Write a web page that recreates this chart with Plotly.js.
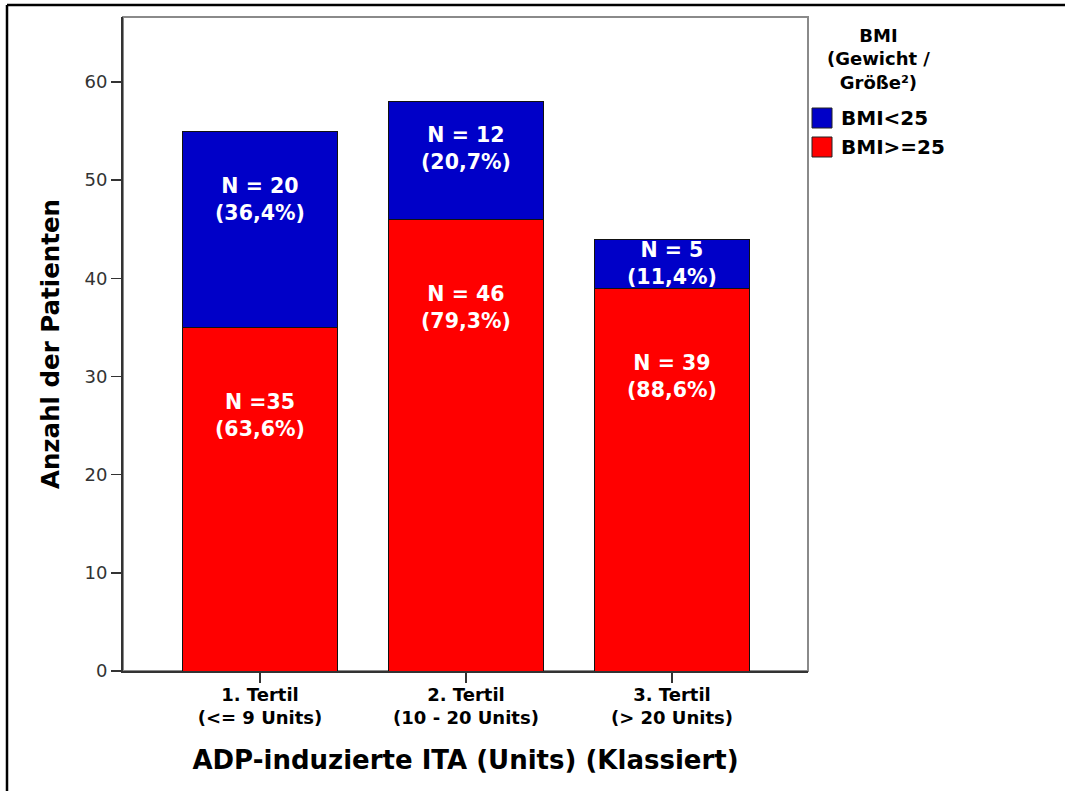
<!DOCTYPE html>
<html>
<head>
<meta charset="utf-8">
<script src="https://cdn.plot.ly/plotly-3.0.1.min.js"></script>
<style>
  html, body { margin: 0; padding: 0; background: #fff; }
  #chart { width: 1065px; height: 791px; }
</style>
</head>
<body>
<div id="chart"></div>
<script>
// ---- data ----
const categories = ["1. Tertil<br>(&lt;= 9 Units)", "2. Tertil<br>(10 - 20 Units)", "3. Tertil<br>(&gt; 20 Units)"];
const seriesNames = ["BMI&lt;25", "BMI&gt;=25"];
const countsLow = [20, 12, 5];    // BMI<25  (blue, top)
const countsHigh = [35, 46, 39];  // BMI>=25 (red, bottom)
const labelsLow = ["N = 20", "N = 12", "N = 5"];
const labelsHigh = ["N =35", "N = 46", "N = 39"];
const yTicks = [0, 10, 20, 30, 40, 50, 60];
const legendTitle = "BMI<br>(Gewicht /<br>Größe²)";
const xTitle = "ADP-induzierte ITA (Units) (Klassiert)";
const yTitle = "Anzahl der Patienten";

// ---- styles ----
const W = 1065, H = 791;
const M = { l: 123, r: 257, t: 17, b: 120 };
const plotW = W - M.l - M.r, plotH = H - M.t - M.b;
const px2x = p => (p - M.l) / plotW;
const px2y = p => 1 - (p - M.t) / plotH;
const BLUE = "#0000c8", RED = "#ff0000";
const BOLD = "DejaVu Sans, Verdana, Arial, sans-serif";
const xs = categories.map((c, i) => i);

const totals = countsLow.map((v, i) => v + countsHigh[i]);
const pct = (v, t) => "(" + (v / t * 100).toFixed(1).replace(".", ",") + "%)";

const traces = [
  {
    type: "bar", x: xs, y: countsHigh, name: seriesNames[1],
    marker: { color: RED, line: { color: "#111", width: 1 } },
    width: 0.748, showlegend: false, hoverinfo: "y+name"
  },
  {
    type: "bar", x: xs, y: countsLow, name: seriesNames[0],
    marker: { color: BLUE, line: { color: "#111", width: 1 } },
    width: 0.748, showlegend: false, hoverinfo: "y+name"
  }
];

// label placement rule: a fixed distance below the segment top, limited to a share of
// the segment, but never so close to the top that the two-line label sticks out
const annotations = [];
const offHigh = 9, offLow = 7, share = 0.4, halfText = 2.5;
const labelFont = { family: BOLD, size: 20.5, color: "#fff", weight: "bold" };
const labelDrop = (h, off) => Math.max(Math.min(off, share * h), Math.min(halfText, h / 2));
xs.forEach((x, i) => {
  const hiTop = countsHigh[i];
  annotations.push({
    x: x, y: hiTop - labelDrop(countsHigh[i], offHigh), xref: "x", yref: "y",
    text: labelsHigh[i] + "<br>" + pct(countsHigh[i], totals[i]),
    showarrow: false, font: labelFont, xanchor: "center", yanchor: "middle"
  });
  const loTop = totals[i];
  annotations.push({
    x: x, y: loTop - labelDrop(countsLow[i], offLow), xref: "x", yref: "y",
    text: labelsLow[i] + "<br>" + pct(countsLow[i], totals[i]),
    showarrow: false, font: labelFont, xanchor: "center", yanchor: "middle"
  });
});

// legend (drawn manually for SPSS-like big swatches)
annotations.push({
  x: px2x(878), y: px2y(59), xref: "paper", yref: "paper",
  text: legendTitle, showarrow: false, xanchor: "center", yanchor: "middle", align: "center",
  font: { family: BOLD, size: 18, color: "#000", weight: "bold" }
});
const legendColors = [BLUE, RED];
const legendRowY = [118, 147];
const shapes = [];
seriesNames.forEach((n, i) => {
  shapes.push({
    type: "rect", xref: "paper", yref: "paper",
    x0: px2x(812), x1: px2x(832), y0: px2y(legendRowY[i] - 10), y1: px2y(legendRowY[i] + 10),
    fillcolor: legendColors[i], line: { color: "#222", width: 1 }
  });
  annotations.push({
    x: px2x(839), y: px2y(legendRowY[i]), xref: "paper", yref: "paper",
    text: n, showarrow: false, xanchor: "left", yanchor: "middle",
    font: { family: BOLD, size: 20, color: "#000", weight: "bold" }
  });
});

// plot frame (grey) and outer frame (black)
shapes.push({
  type: "rect", xref: "paper", yref: "paper", x0: 0, x1: 1, y0: 0, y1: 1,
  line: { color: "#8a8a8a", width: 2 }, layer: "below"
});
shapes.push({
  type: "line", xref: "paper", yref: "paper",
  x0: px2x(7), x1: px2x(W + 5), y0: px2y(5), y1: px2y(5),
  line: { color: "#000", width: 2.5 }
});
shapes.push({
  type: "line", xref: "paper", yref: "paper",
  x0: px2x(7), x1: px2x(7), y0: px2y(5), y1: px2y(H + 5),
  line: { color: "#000", width: 2.5 }
});

const layout = {
  width: W, height: H,
  margin: M,
  paper_bgcolor: "#fff", plot_bgcolor: "#fff",
  barmode: "stack",
  showlegend: false,
  xaxis: {
    range: [-0.665, -0.665 + plotW / 206],
    tickvals: xs, ticktext: categories,
    ticks: "outside", ticklen: 10, tickwidth: 1.5, tickcolor: "#333",
    ticklabelstandoff: -4,
    showline: true, linecolor: "#333", linewidth: 2,
    showgrid: false, zeroline: false, fixedrange: true,
    tickfont: { family: BOLD, size: 18, color: "#000", weight: "bold" },
    title: { text: xTitle, standoff: 24, font: { family: BOLD, size: 26, color: "#000", weight: "bold" } },
    automargin: false
  },
  yaxis: {
    range: [0, plotH / 9.817],
    tickvals: yTicks,
    ticks: "outside", ticklen: 10, tickwidth: 1.5, tickcolor: "#333",
    showline: true, linecolor: "#333", linewidth: 2,
    showgrid: false, zeroline: false, fixedrange: true,
    tickfont: { family: BOLD, size: 18, color: "#333" },
    title: { text: yTitle, standoff: 18, font: { family: BOLD, size: 24.5, color: "#000", weight: "bold" } },
    automargin: false
  },
  annotations: annotations,
  shapes: shapes
};

Plotly.newPlot("chart", traces, layout, { displayModeBar: false, staticPlot: true });
</script>
</body>
</html>
